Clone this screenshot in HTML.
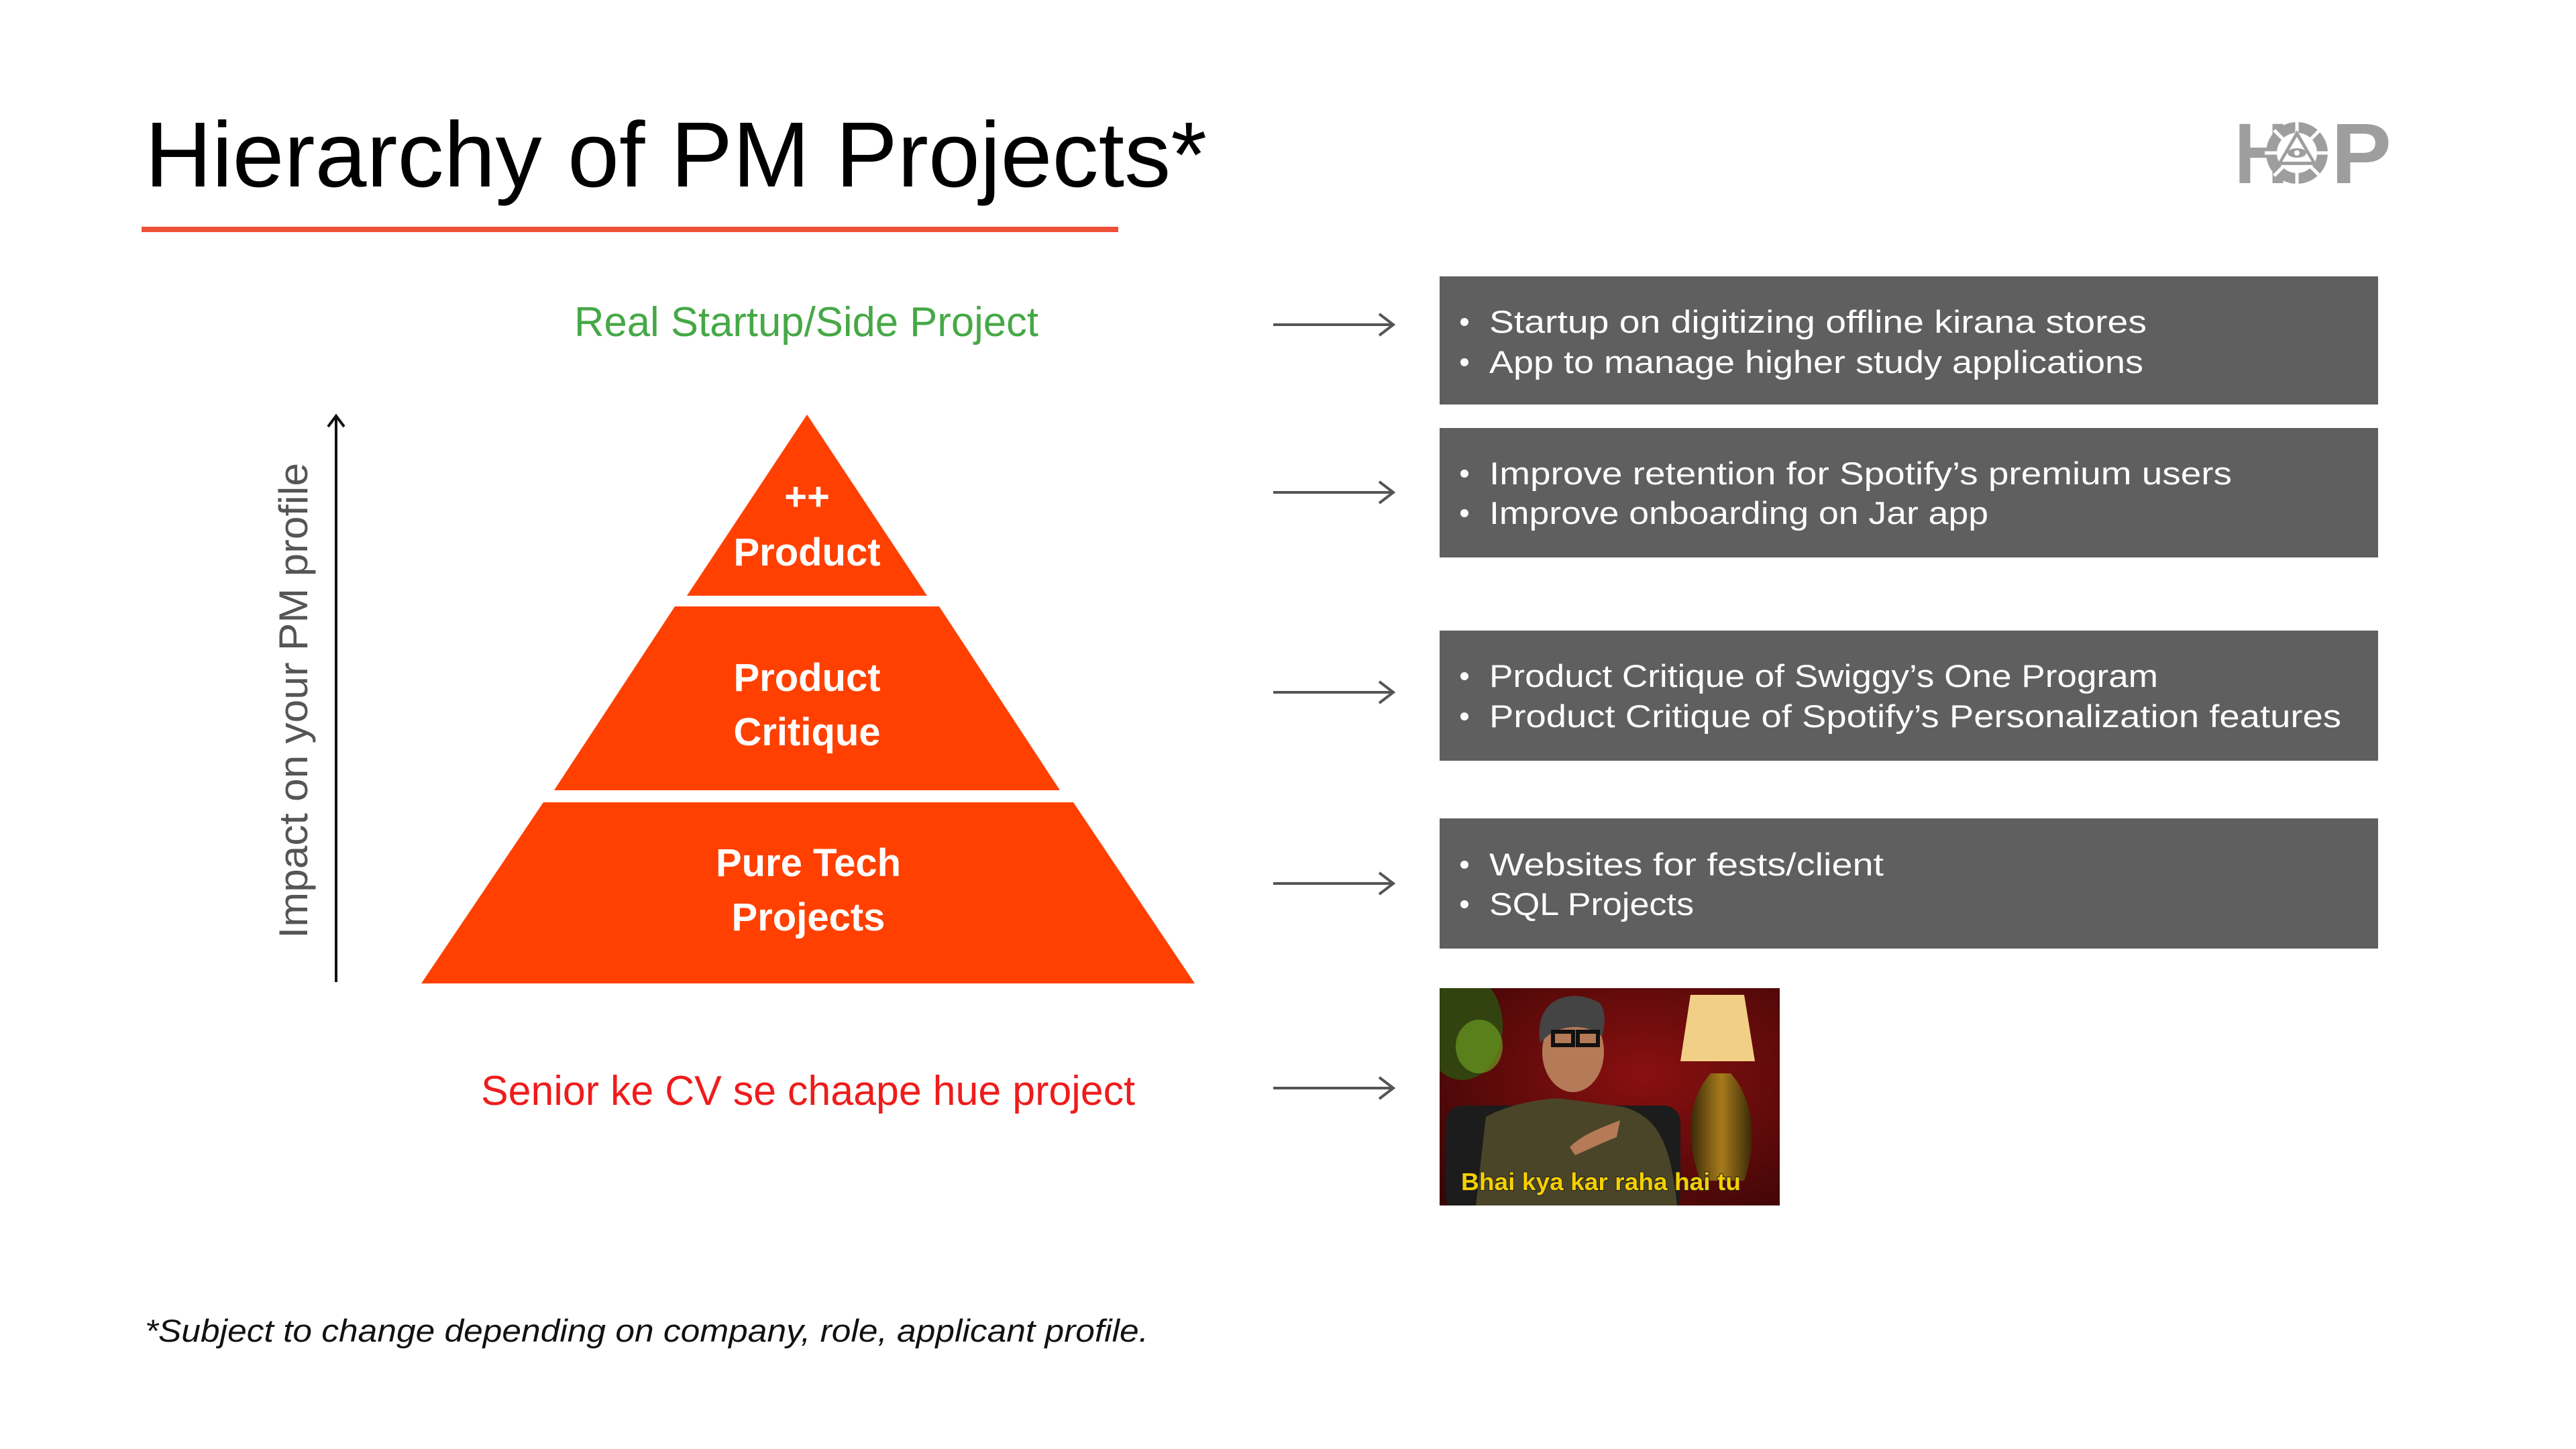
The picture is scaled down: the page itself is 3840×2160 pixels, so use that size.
<!DOCTYPE html>
<html><head><meta charset="utf-8"><style>
html,body{margin:0;padding:0;background:#fff;}
svg{display:block;}
text{font-family:"Liberation Sans",sans-serif;}
</style></head><body>
<svg width="3840" height="2160" viewBox="0 0 3840 2160" xmlns="http://www.w3.org/2000/svg">
<rect width="3840" height="2160" fill="#fff"/>
<!-- Title -->
<text x="216" y="278" font-size="138" fill="#000" textLength="1583" lengthAdjust="spacingAndGlyphs">Hierarchy of PM Projects*</text>
<rect x="211" y="338" width="1456" height="8" fill="#f05039"/>
<!-- Logo -->
<g fill="#9e9e9e">
<text x="3331" y="273" font-size="128" font-weight="bold" textLength="80" lengthAdjust="spacingAndGlyphs">H</text>
<text x="3475" y="273" font-size="128" font-weight="bold" textLength="90" lengthAdjust="spacingAndGlyphs">P</text>
<g transform="translate(3424,228)">
<circle r="46" fill="#9e9e9e"/>
<circle r="30" fill="#fff"/>
<g stroke="#fff" stroke-width="5">
<line x1="0" y1="-48" x2="0" y2="-30"/><line x1="0" y1="48" x2="0" y2="30"/>
<line x1="-48" y1="0" x2="-30" y2="0"/><line x1="48" y1="0" x2="30" y2="0"/>
<line x1="-34" y1="-34" x2="-21" y2="-21"/><line x1="34" y1="34" x2="21" y2="21"/>
<line x1="34" y1="-34" x2="21" y2="-21"/><line x1="-34" y1="34" x2="-21" y2="21"/>
</g>
<polygon points="0,-34 30,18 -30,18" fill="#9e9e9e"/>
<polygon points="0,-24 22,13 -22,13" fill="#fff"/>
<ellipse cx="0" cy="0" rx="14" ry="7" fill="#9e9e9e"/>
<circle cx="0" cy="0" r="4" fill="#fff"/>
</g>
</g>
<!-- Green -->
<text x="856" y="501" font-size="62" fill="#46a846" textLength="692" lengthAdjust="spacingAndGlyphs">Real Startup/Side Project</text>
<!-- Axis -->
<line x1="501" y1="1464" x2="501" y2="622" stroke="#111" stroke-width="4"/>
<polyline points="489,636 501,620 513,636" fill="none" stroke="#111" stroke-width="4"/>
<text transform="translate(458,1399) rotate(-90)" font-size="60" fill="#555" textLength="709" lengthAdjust="spacingAndGlyphs">Impact on your PM profile</text>
<!-- Pyramid -->
<g fill="#ff4000">
<polygon points="1203,618 1024,888 1382,888"/>
<polygon points="1006,904 1400,904 1580,1178 826,1178"/>
<polygon points="810,1196 1600,1196 1781,1466 628,1466"/>
</g>
<g fill="#fff" font-weight="bold" font-size="58" text-anchor="middle">
<text x="1203" y="760">++</text>
<text x="1203" y="843">Product</text>
<text x="1203" y="1030">Product</text>
<text x="1203" y="1111">Critique</text>
<text x="1205" y="1306">Pure Tech</text>
<text x="1205" y="1387">Projects</text>
</g>
<!-- Red -->
<text x="717" y="1647" font-size="62" fill="#ee1c1c" textLength="975" lengthAdjust="spacingAndGlyphs">Senior ke CV se chaape hue project</text>
<!-- Arrows -->
<g stroke="#555" stroke-width="4" fill="none">
<line x1="1898" y1="484" x2="2077" y2="484"/><polyline points="2056,468 2077,484 2056,500"/>
<line x1="1898" y1="734" x2="2077" y2="734"/><polyline points="2056,718 2077,734 2056,750"/>
<line x1="1898" y1="1032" x2="2077" y2="1032"/><polyline points="2056,1016 2077,1032 2056,1048"/>
<line x1="1898" y1="1317" x2="2077" y2="1317"/><polyline points="2056,1301 2077,1317 2056,1333"/>
<line x1="1898" y1="1622" x2="2077" y2="1622"/><polyline points="2056,1606 2077,1622 2056,1638"/>
</g>
<!-- Boxes -->
<g fill="#5f5f5f">
<rect x="2146" y="412" width="1399" height="191"/>
<rect x="2146" y="638" width="1399" height="193"/>
<rect x="2146" y="940" width="1399" height="194"/>
<rect x="2146" y="1220" width="1399" height="194"/>
</g>
<g fill="#fff" font-size="47">
<circle cx="2183" cy="480" r="6"/><circle cx="2183" cy="540" r="6"/>
<circle cx="2183" cy="706" r="6"/><circle cx="2183" cy="765" r="6"/>
<circle cx="2183" cy="1008" r="6"/><circle cx="2183" cy="1068" r="6"/>
<circle cx="2183" cy="1289" r="6"/><circle cx="2183" cy="1348" r="6"/>
<text x="2220" y="496" textLength="980" lengthAdjust="spacingAndGlyphs">Startup on digitizing offline kirana stores</text>
<text x="2220" y="556" textLength="975" lengthAdjust="spacingAndGlyphs">App to manage higher study applications</text>
<text x="2220" y="722" textLength="1107" lengthAdjust="spacingAndGlyphs">Improve retention for Spotify’s premium users</text>
<text x="2220" y="781" textLength="744" lengthAdjust="spacingAndGlyphs">Improve onboarding on Jar app</text>
<text x="2220" y="1024" textLength="997" lengthAdjust="spacingAndGlyphs">Product Critique of Swiggy’s One Program</text>
<text x="2220" y="1084" textLength="1270" lengthAdjust="spacingAndGlyphs">Product Critique of Spotify’s Personalization features</text>
<text x="2220" y="1305" textLength="588" lengthAdjust="spacingAndGlyphs">Websites for fests/client</text>
<text x="2220" y="1364" textLength="305" lengthAdjust="spacingAndGlyphs">SQL Projects</text>
</g>
<!-- Meme image -->
<defs>
<radialGradient id="bg" cx="0.6" cy="0.4" r="0.8"><stop offset="0" stop-color="#8a1010"/><stop offset="1" stop-color="#3a0505"/></radialGradient>
<linearGradient id="vase" x1="0" x2="1"><stop offset="0" stop-color="#3a2a08"/><stop offset="0.5" stop-color="#a77b1c"/><stop offset="1" stop-color="#3a2a08"/></linearGradient>
<clipPath id="mc"><rect x="2146" y="1473" width="507" height="324"/></clipPath>
</defs>
<g clip-path="url(#mc)">
<rect x="2146" y="1473" width="507" height="324" fill="url(#bg)"/>
<ellipse cx="2180" cy="1530" rx="60" ry="80" fill="#2f4a12" opacity="0.9"/>
<ellipse cx="2205" cy="1560" rx="35" ry="40" fill="#6a9a20" opacity="0.7"/>
<polygon points="2520,1483 2600,1483 2616,1582 2505,1582" fill="#f2cf86"/>
<path d="M2550,1600 C2515,1640 2512,1700 2535,1760 L2600,1760 C2620,1700 2615,1640 2580,1600 Z" fill="url(#vase)"/>
<rect x="2155" y="1648" width="350" height="160" rx="25" fill="#1c1c1c"/>
<path d="M2200,1797 L2215,1665 C2250,1645 2310,1635 2330,1638 L2420,1650 C2470,1665 2490,1700 2500,1797 Z" fill="#4a4528"/>
<ellipse cx="2345" cy="1568" rx="46" ry="60" fill="#b57a58"/>
<path d="M2296,1555 C2285,1490 2340,1470 2385,1495 C2395,1510 2392,1530 2388,1545 C2365,1525 2320,1525 2296,1555 Z" fill="#444"/>
<rect x="2315" y="1538" width="30" height="20" fill="none" stroke="#111" stroke-width="6"/>
<rect x="2352" y="1538" width="30" height="20" fill="none" stroke="#111" stroke-width="6"/>
<path d="M2340,1710 C2360,1690 2390,1680 2415,1670 L2410,1695 C2385,1705 2365,1715 2348,1722 Z" fill="#b57a58"/>
<text x="2178" y="1774" font-size="36" font-weight="bold" fill="#f5d000" stroke="#222" stroke-width="2" paint-order="stroke" textLength="417" lengthAdjust="spacingAndGlyphs">Bhai kya kar raha hai tu</text>
</g>
<!-- Footnote -->
<text x="216" y="2000" font-size="47" font-style="italic" fill="#111" textLength="1496" lengthAdjust="spacingAndGlyphs">*Subject to change depending on company, role, applicant profile.</text>
</svg>
</body></html>
